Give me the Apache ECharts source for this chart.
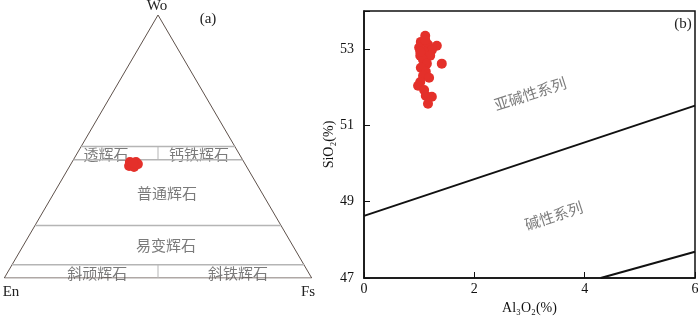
<!DOCTYPE html>
<html>
<head>
<meta charset="utf-8">
<script src="https://cdn.jsdelivr.net/npm/echarts@6/dist/echarts.min.js"></script>
<style>html,body{margin:0;padding:0;background:#fff;}#c{width:700px;height:318px;}</style>
</head>
<body>
<div id="c"></div>
<script>
// ---- Data (a): ternary Wo-En-Fs, percent ----
const terWo = [44.1, 44.1, 42.6, 42.2, 43.3, 43.3, 43.8];
const terEn = [37.1, 35.1, 38.1, 36.7, 34.9, 36.8, 36.2];
const terFs = [18.8, 20.8, 19.3, 21.1, 21.8, 19.9, 20.0];
// Boundary Wo levels of the pyroxene fields
const woLevels = [50, 45, 20, 5];
const fieldNames = ['透辉石', '钙铁辉石', '普通辉石', '易变辉石', '斜顽辉石', '斜铁辉石'];
const vertexNames = ['Wo', 'En', 'Fs'];

// ---- Data (b): SiO2 vs Al2O3 ----
const al2o3 = [1.11, 1.03, 1.16, 1.32, 1.00, 1.23, 1.09, 1.02, 1.20, 1.07, 1.41, 1.14, 1.03, 1.12, 1.07, 1.18, 1.02, 0.98, 1.09, 1.12, 1.23, 1.16, 1.02, 1.11];
const sio2  = [53.35, 53.19, 53.12, 53.09, 53.04, 52.98, 52.93, 52.83, 52.83, 52.72, 52.62, 52.62, 52.51, 52.41, 52.30, 52.25, 52.14, 52.04, 51.93, 51.78, 51.75, 51.57, 52.93, 53.24];
const line1X = [0, 6];
const line1Y = [48.63, 51.52];
const line2X = [4.29, 6];
const line2Y = [47, 47.69];
const xTicks = [0, 2, 4, 6];
const yTicks = [47, 49, 51, 53];

function tern(wo, en, fs) {
  const s = wo + en + fs;
  return [(fs + wo / 2) / s, wo / s];
}
const terPts = terWo.map((w, i) => tern(w, terEn[i], terFs[i]));
const boundarySegs = woLevels.map(w => {
  const y = w / 100;
  return [[y / 2, y], [1 - y / 2, y]];
});

const serif = 'Liberation Serif';
const cjk = 'Noto Sans CJK SC';
const red = '#e4302a';

const series = [];
series.push({
  type: 'line', xAxisIndex: 0, yAxisIndex: 0, silent: true, symbol: 'none',
  data: [[0, 0], [0.5, 1], [1, 0], [0, 0]],
  lineStyle: { color: '#5e514b', width: 1 }
});
boundarySegs.forEach(seg => series.push({
  type: 'line', xAxisIndex: 0, yAxisIndex: 0, silent: true, symbol: 'none',
  data: seg, lineStyle: { color: '#b5b5b5', width: 1.5 }
}));
series.push({
  type: 'line', xAxisIndex: 0, yAxisIndex: 0, silent: true, symbol: 'none',
  data: [[0.5, woLevels[1] / 100], [0.5, woLevels[0] / 100]], lineStyle: { color: '#b5b5b5', width: 1 }
});
series.push({
  type: 'line', xAxisIndex: 0, yAxisIndex: 0, silent: true, symbol: 'none',
  data: [[0.5, 0], [0.5, woLevels[3] / 100]], lineStyle: { color: '#b5b5b5', width: 1 }
});
const fieldPos = [[0.331, 0.471], [0.633, 0.471], [0.529, 0.323], [0.526, 0.125], [0.302, 0.017], [0.760, 0.017]];
series.push({
  type: 'scatter', xAxisIndex: 0, yAxisIndex: 0, silent: true, symbolSize: 0,
  data: fieldNames.map((n, i) => ({ value: fieldPos[i], name: n })),
  label: { show: true, position: 'inside', formatter: p => p.name, color: '#5a5a5a', fontFamily: cjk, fontSize: 15 }
});
series.push({
  type: 'scatter', xAxisIndex: 0, yAxisIndex: 0, symbolSize: 10,
  data: terPts, itemStyle: { color: red, opacity: 1 }, z: 5
});

// panel b
series.push({
  type: 'line', xAxisIndex: 1, yAxisIndex: 1, silent: true, symbol: 'none',
  data: line1X.map((x, i) => [x, line1Y[i]]), lineStyle: { color: '#111', width: 2 }
});
series.push({
  type: 'line', xAxisIndex: 1, yAxisIndex: 1, silent: true, symbol: 'none',
  data: line2X.map((x, i) => [x, line2Y[i]]), lineStyle: { color: '#111', width: 2 }
});
series.push({
  type: 'scatter', xAxisIndex: 1, yAxisIndex: 1, symbolSize: 10,
  data: al2o3.map((x, i) => [x, sio2[i]]), itemStyle: { color: red, opacity: 1 }, z: 5
});
series.push({
  type: 'scatter', xAxisIndex: 1, yAxisIndex: 1, silent: true, symbolSize: 0,
  data: [{ value: [3.01, 51.83], name: '亚碱性系列' }, { value: [3.44, 48.63], name: '碱性系列' }],
  label: { show: true, position: 'inside', rotate: 18, formatter: p => p.name, color: '#5a5a5a', fontFamily: cjk, fontSize: 15 }
});

const txt = (x, y, t, align) => ({
  type: 'text', x: x, y: y, silent: true,
  style: { text: t, fill: '#222', font: '15px "' + serif + '"', textAlign: align || 'center', textVerticalAlign: 'middle' }
});

const chart = echarts.init(document.getElementById('c'), null, { renderer: 'canvas' });
chart.setOption({
  animation: false,
  backgroundColor: '#fff',
  grid: [
    { left: 4.3, top: 15, width: 307.4, height: 263, show: false, containLabel: false, outerBoundsMode: 'none' },
    { left: 364, top: 11, width: 331, height: 267, show: true, borderColor: '#111', borderWidth: 1.5, backgroundColor: 'transparent', containLabel: false, outerBoundsMode: 'none' }
  ],
  graphic: [
    txt(157, 6, vertexNames[0]),
    txt(11, 292, vertexNames[1]),
    txt(308, 292, vertexNames[2]),
    txt(208, 19, '(a)'),
    txt(683, 24, '(b)')
  ],
  xAxis: [
    { gridIndex: 0, type: 'value', min: 0, max: 1, show: false },
    { gridIndex: 1, type: 'value', min: xTicks[0], max: xTicks[xTicks.length - 1], interval: 2,
      axisLine: { show: true, lineStyle: { color: '#111', width: 1.5 } },
      axisTick: { show: true, inside: true, length: 6, lineStyle: { color: '#111', width: 1 } },
      splitLine: { show: false },
      axisLabel: { color: '#111', fontFamily: serif, fontSize: 14, margin: 4 },
      name: 'Al₃O₂(%)', nameLocation: 'middle', nameGap: 22,
      nameTextStyle: { color: '#111', fontFamily: serif, fontSize: 14 } }
  ],
  yAxis: [
    { gridIndex: 0, type: 'value', min: 0, max: 1, show: false },
    { gridIndex: 1, type: 'value', min: yTicks[0], max: 54, interval: 2,
      axisLine: { show: true, lineStyle: { color: '#111', width: 1.5 } },
      axisTick: { show: true, inside: true, length: 6, lineStyle: { color: '#111', width: 1 } },
      splitLine: { show: false },
      axisLabel: { color: '#111', fontFamily: serif, fontSize: 14, margin: 10,
        formatter: v => (yTicks.indexOf(v) >= 0 ? String(v) : '') },
      name: 'SiO₂(%)', nameLocation: 'middle', nameGap: 28, nameRotate: 90,
      nameTextStyle: { color: '#111', fontFamily: serif, fontSize: 14 } }
  ],
  series: series
});
</script>
</body>
</html>
